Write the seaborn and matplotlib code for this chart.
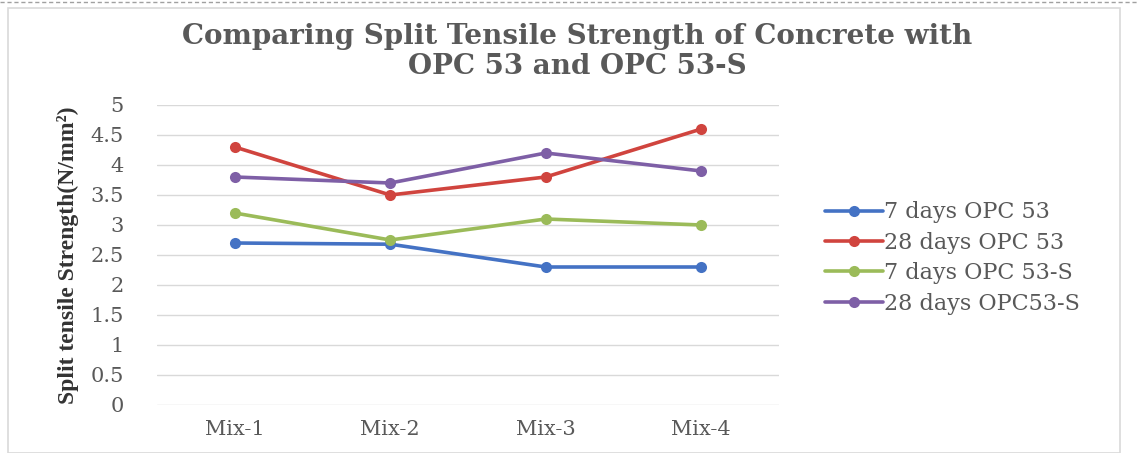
import matplotlib
matplotlib.use("Agg")
import matplotlib.pyplot as plt
import seaborn as sns
import pandas as pd
from matplotlib.patches import Rectangle
from matplotlib.lines import Line2D

mixes = ["Mix-1", "Mix-2", "Mix-3", "Mix-4"]
opc53_7d = [2.7, 2.68, 2.3, 2.3]
opc53_28d = [4.3, 3.5, 3.8, 4.6]
opc53s_7d = [3.2, 2.75, 3.1, 3.0]
opc53s_28d = [3.8, 3.7, 4.2, 3.9]
series_names = ["7 days OPC 53", "28 days OPC 53", "7 days OPC 53-S", "28 days OPC53-S"]
y_ticks = [0, 0.5, 1, 1.5, 2, 2.5, 3, 3.5, 4, 4.5, 5]

colors = ["#4472C4", "#D0443E", "#9BBB59", "#7E5FA6"]

frames = []
for name, vals in zip(series_names, [opc53_7d, opc53_28d, opc53s_7d, opc53s_28d]):
    frames.append(pd.DataFrame({"Mix": mixes, "Strength": vals, "Series": name}))
df = pd.concat(frames, ignore_index=True)

sns.set_theme(style="white")
plt.rcParams["font.family"] = ["DejaVu Serif", "Liberation Serif"]

fig = plt.figure(figsize=(11.39, 4.53), dpi=100)
ax = fig.add_axes([157 / 1139, 1 - 405 / 453, 622 / 1139, 300 / 453])

sns.lineplot(data=df, x="Mix", y="Strength", hue="Series", hue_order=series_names,
             palette=colors, marker="o", markersize=8, markeredgewidth=0,
             linewidth=2.6, sort=False, ax=ax, legend=False)

ax.set_xlim(-0.5, 3.5)
ax.set_ylim(0, 5)
ax.set_yticks(y_ticks)
ax.set_yticklabels([f"{t:g}" for t in y_ticks])
ax.yaxis.grid(True, color="#D9D9D9", linewidth=1)
ax.xaxis.grid(False)
for s in ax.spines.values():
    s.set_visible(False)
ax.set_axisbelow(True)
ax.tick_params(axis="both", length=0, labelsize=15, labelcolor="#595959")
ax.tick_params(axis="y", pad=24)
ax.tick_params(axis="x", pad=11)
ax.set_xlabel("")
ax.set_ylabel("Split tensile Strength(N/mm²)", fontsize=17, color="#333333",
              family="Liberation Serif", fontweight="bold", labelpad=8)

handles = [Line2D([], [], color=c, marker="o", markersize=8, markeredgewidth=0, linewidth=2.6)
           for c in colors]
fig.legend(handles, series_names, loc="center left", bbox_to_anchor=(816 / 1139, 1 - 258 / 453),
           frameon=False, fontsize=16, labelcolor="#595959", handlelength=2.6,
           handletextpad=0.05, labelspacing=0.38, borderaxespad=0)

fig.text(577 / 1139, 1 - 37 / 453, "Comparing Split Tensile Strength of Concrete with",
         ha="center", va="center", fontsize=20, fontweight="bold", color="#595959")
fig.text(577 / 1139, 1 - 67 / 453, "OPC 53 and OPC 53-S",
         ha="center", va="center", fontsize=20, fontweight="bold", color="#595959")

# chart frame
fig.patches.append(Rectangle((8 / 1139, 0), 1112 / 1139, 445 / 453, transform=fig.transFigure,
                             fill=False, edgecolor="#D9D9D9", linewidth=1.2))
fig.lines.append(Line2D([0, 1], [1 - 2 / 453, 1 - 2 / 453], transform=fig.transFigure,
                        color="#A0A0A0", linewidth=1, linestyle=(0, (3, 2))))

fig.savefig("out.png", dpi=100)
